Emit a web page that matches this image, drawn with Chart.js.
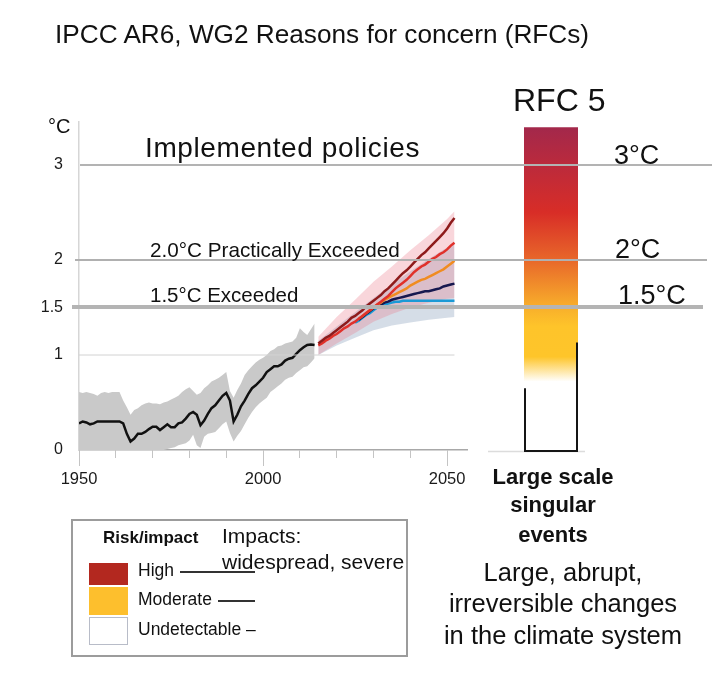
<!DOCTYPE html>
<html><head><meta charset="utf-8">
<script src="https://cdn.jsdelivr.net/npm/chart.js@4.4.1/dist/chart.umd.min.js"></script>
<style>
html,body{margin:0;padding:0;background:#fff;}
body{width:727px;height:682px;position:relative;overflow:hidden;font-family:"Liberation Sans",Arial,sans-serif;color:#111;}
#rfc{position:absolute;left:480px;top:0;z-index:1;width:247px;height:682px;}
#main{position:absolute;left:0;top:0;z-index:2;width:727px;height:682px;}
.t{position:absolute;white-space:nowrap;line-height:1;z-index:3;}
.c{text-align:center;width:300px;}
.sw{position:absolute;z-index:3;box-sizing:border-box;}
.ln{position:absolute;z-index:3;height:1.5px;background:#333;}
</style></head><body>
<canvas id="rfc" width="247" height="682"></canvas>
<canvas id="main" width="727" height="682"></canvas>

<div class="t" style="left:55px;top:21px;font-size:26.2px;">IPCC AR6, WG2 Reasons for concern (RFCs)</div>
<div class="t" style="left:48px;top:116px;font-size:20px;">°C</div>
<div class="t" style="left:145px;top:134px;font-size:28px;letter-spacing:0.6px;">Implemented policies</div>
<div class="t" style="left:150px;top:240px;font-size:20.7px;">2.0°C Practically Exceeded</div>
<div class="t" style="left:150px;top:285px;font-size:20.5px;">1.5°C Exceeded</div>

<div class="t" style="left:513px;top:84px;font-size:32px;">RFC 5</div>
<div class="t" style="left:614px;top:142px;font-size:27px;">3°C</div>
<div class="t" style="left:615px;top:236px;font-size:27px;">2°C</div>
<div class="t" style="left:618px;top:282px;font-size:27px;">1.5°C</div>

<div class="t c" style="left:403px;top:466px;font-size:22px;font-weight:bold;">Large scale</div>
<div class="t c" style="left:403px;top:494px;font-size:22px;font-weight:bold;">singular</div>
<div class="t c" style="left:403px;top:524px;font-size:22px;font-weight:bold;">events</div>
<div class="t c" style="left:413px;top:560px;font-size:25.5px;">Large, abrupt,</div>
<div class="t c" style="left:413px;top:591px;font-size:25.5px;">irreversible changes</div>
<div class="t c" style="left:413px;top:623px;font-size:25.5px;">in the climate system</div>

<div class="sw" style="left:71px;top:519px;width:337px;height:138px;border:2px solid #9c9c9c;"></div>
<div class="t" style="left:103px;top:529px;font-size:17px;font-weight:bold;">Risk/impact</div>
<div class="t" style="left:222px;top:525px;font-size:21px;">Impacts:</div>
<div class="t" style="left:222px;top:551px;font-size:21px;">widespread, severe</div>
<div class="sw" style="left:89px;top:563px;width:39px;height:22px;background:#B3281F;"></div>
<div class="sw" style="left:89px;top:587px;width:39px;height:28px;background:#FDBF2D;"></div>
<div class="sw" style="left:89px;top:617px;width:39px;height:28px;background:#fff;border:1.5px solid #b8bcc8;"></div>
<div class="t" style="left:138px;top:562px;font-size:17.5px;">High</div>
<div class="ln" style="left:180px;top:571px;width:75px;"></div>
<div class="t" style="left:138px;top:591px;font-size:17.5px;">Moderate</div>
<div class="ln" style="left:218px;top:600px;width:37px;"></div>
<div class="t" style="left:138px;top:621px;font-size:17.5px;">Undetectable –</div>

<script>
// ---------- data ----------
const histStart = 1950;
const histMean = [0.28,0.30,0.29,0.27,0.28,0.30,0.30,0.30,0.30,0.30,
  0.30,0.30,0.28,0.17,0.09,0.12,0.17,0.17,0.19,0.22,
  0.245,0.245,0.21,0.24,0.27,0.24,0.24,0.28,0.29,0.33,
  0.38,0.40,0.37,0.26,0.31,0.38,0.44,0.47,0.52,0.57,
  0.60,0.52,0.30,0.37,0.46,0.52,0.59,0.65,0.68,0.72,
  0.76,0.82,0.85,0.88,0.88,0.90,0.94,0.96,0.97,1.01,
  1.05,1.08,1.105,1.11,1.105];
const histUpper = [0.61,0.60,0.61,0.60,0.59,0.57,0.60,0.61,0.60,0.61,
  0.61,0.61,0.52,0.45,0.37,0.42,0.44,0.47,0.49,0.50,
  0.49,0.49,0.48,0.50,0.51,0.53,0.55,0.57,0.61,0.64,
  0.66,0.62,0.58,0.60,0.65,0.68,0.72,0.74,0.76,0.79,
  0.82,0.62,0.55,0.63,0.70,0.79,0.84,0.88,0.92,0.95,
  0.97,1.00,1.04,1.06,1.09,1.10,1.12,1.13,1.14,1.18,
  1.28,1.24,1.21,1.27,1.33];
const histLower = [0,0,0,0,0,0,0,0,0,0,
  0,0,0,0,0,0,0,0,0,0,
  0,0,0,0,0.01,0.02,0.03,0.05,0.06,0.07,
  0.10,0.16,0.05,0.02,0.14,0.17,0.18,0.19,0.23,0.27,
  0.30,0.18,0.09,0.15,0.20,0.27,0.34,0.40,0.45,0.49,
  0.52,0.55,0.61,0.64,0.67,0.70,0.74,0.76,0.77,0.81,
  0.84,0.87,0.88,0.92,0.965];

const projStart = 2015;
const darkRed = [1.12,1.15,1.18,1.20,1.23,1.26,1.29,1.32,1.35,1.39,
  1.41,1.44,1.47,1.51,1.54,1.57,1.60,1.63,1.67,1.70,
  1.74,1.78,1.82,1.86,1.89,1.93,1.97,2.01,2.05,2.08,
  2.12,2.16,2.20,2.24,2.28,2.33,2.39,2.44];
const red = [1.10,1.12,1.15,1.17,1.20,1.22,1.25,1.28,1.30,1.33,
  1.35,1.38,1.41,1.44,1.47,1.50,1.53,1.56,1.59,1.62,
  1.66,1.70,1.73,1.76,1.79,1.83,1.87,1.90,1.93,1.95,
  1.98,2.01,2.03,2.06,2.08,2.11,2.15,2.18];
const orangeStart = 2026;
const orange = [1.38,1.41,1.44,1.47,1.50,1.53,1.55,1.58,1.60,1.62,
  1.64,1.66,1.68,1.70,1.73,1.75,1.77,1.79,1.80,1.82,
  1.84,1.86,1.88,1.90,1.93,1.96,1.99];
const navyStart = 2026;
const navy = [1.37,1.40,1.43,1.46,1.49,1.51,1.53,1.55,1.56,1.58,
  1.59,1.60,1.61,1.62,1.63,1.64,1.65,1.66,1.67,1.67,
  1.68,1.69,1.70,1.72,1.73,1.74,1.75];
const blueStart = 2025;
const blue = [1.34,1.36,1.39,1.42,1.44,1.47,1.50,1.52,1.53,1.54,
  1.55,1.56,1.56,1.57,1.57,1.57,1.57,1.57,1.57,1.57,
  1.57,1.57,1.57,1.57,1.57,1.57,1.57,1.57];

const bandYears = [2015,2020,2025,2030,2035,2040,2045,2050,2052];
const pinkUpper = [1.19,1.40,1.58,1.77,1.93,2.10,2.26,2.43,2.51];
const pinkLower = [1.00,1.12,1.23,1.35,1.43,1.50,1.55,1.59,1.60];
const greyBlueUpper = [1.15,1.30,1.45,1.60,1.74,1.88,2.01,2.13,2.19];
const greyBlueLower = [1.00,1.10,1.18,1.26,1.31,1.34,1.37,1.39,1.40];

const xTickYears = [1950,1960,1970,1980,1990,2000,2010,2020,2030,2040,2050];
const xLabelYears = [1950,2000,2050];
const yTickValues = [0,1,1.5,2,3];
const yTickLabels = ['0','1','1.5','2','3'];
const refLevels = [3,2,1.5,1];

const rfcLabels = ['RFC 5'];
const rfcTop = 3.39;
const rfcOutlineLeftTop = 0.65;
const rfcOutlineRightTop = 1.13;

// ---------- helpers ----------
const series = (start, vals) => vals.map((v,i)=>({x:start+i, y:v}));
const paired = (xs, vals) => vals.map((v,i)=>({x:xs[i], y:v}));
const FONT = '"Liberation Sans", Arial, sans-serif';

// pick a narrow face for the axis labels if one is installed
const probe = document.createElement('canvas').getContext('2d');
probe.font = '20px "Liberation Sans Narrow", monospace';
const wNarrow = probe.measureText('1950 1.5').width;
probe.font = '20px monospace';
const wMono = probe.measureText('1950 1.5').width;
const hasNarrow = Math.abs(wNarrow - wMono) > 0.5;
const AXIS_FONT = hasNarrow ? '"Liberation Sans Narrow", "Liberation Sans", sans-serif' : FONT;
const AXIS_X_SIZE = hasNarrow ? 19 : 16.5;
const AXIS_Y_SIZE = hasNarrow ? 18.5 : 16;

const Y_MIN = 0, Y_MAX = 3.45;

// ---------- main chart ----------
const refStyle = [
  {x0:80, x1:712, w:2, c:'#b3b3b3'},
  {x0:75, x1:707, w:2, c:'#b0b0b0'},
  {x0:72, x1:703, w:4, c:'#b4b4b4'},
  {x0:79, x1:null, w:1, c:'#d2d2d2'}
];
const refLinesPlugin = {
  id:'refLines',
  afterDatasetsDraw(chart){
    const {ctx, scales:{x,y}} = chart;
    ctx.save();
    refLevels.forEach((v,i)=>{
      const s = refStyle[i];
      const py = Math.round(y.getPixelForValue(v));
      const x1 = s.x1 === null ? x.getPixelForValue(projStart + red.length - 1) : s.x1;
      ctx.strokeStyle = s.c; ctx.lineWidth = s.w;
      ctx.beginPath(); ctx.moveTo(s.x0, py); ctx.lineTo(x1, py); ctx.stroke();
    });
    const b = chart.chartArea.bottom;
    ctx.strokeStyle = '#c4c4c4'; ctx.lineWidth = 1;
    xLabelYears.forEach(v=>{
      const px = Math.round(x.getPixelForValue(v)) + 0.5;
      ctx.beginPath(); ctx.moveTo(px, b); ctx.lineTo(px, b + 16); ctx.stroke();
    });
    ctx.restore();
  }
};

const lineDs = (label, data, color, order, width) => ({
  label, data, borderColor: color, borderWidth: width || 2.5, pointRadius: 0,
  fill: false, tension: 0, order
});

new Chart(document.getElementById('main'), {
  type: 'line',
  data: { datasets: [
    {label:'histUpper', data: series(histStart, histUpper), borderWidth:0, pointRadius:0, fill:'+1', backgroundColor:'#c9c9c9', order:20},
    {label:'histLower', data: series(histStart, histLower), borderWidth:0, pointRadius:0, fill:false, order:21},
    {label:'greyBlueUpper', data: paired(bandYears, greyBlueUpper), borderWidth:0, pointRadius:0, fill:'+1', backgroundColor:'rgba(150,170,195,0.40)', order:18},
    {label:'greyBlueLower', data: paired(bandYears, greyBlueLower), borderWidth:0, pointRadius:0, fill:false, order:19},
    {label:'pinkUpper', data: paired(bandYears, pinkUpper), borderWidth:0, pointRadius:0, fill:'+1', backgroundColor:'rgba(235,120,135,0.30)', order:16},
    {label:'pinkLower', data: paired(bandYears, pinkLower), borderWidth:0, pointRadius:0, fill:false, order:17},
    lineDs('blue', series(blueStart, blue), '#1a9ad6', 6),
    lineDs('navy', series(navyStart, navy), '#16184f', 5),
    lineDs('orange', series(orangeStart, orange), '#f08c21', 4),
    lineDs('red', series(projStart, red), '#e0312b', 3),
    lineDs('darkRed', series(projStart, darkRed), '#8e1b1b', 2),
    lineDs('observed', series(histStart, histMean), '#111111', 1, 2.5)
  ]},
  options: {
    responsive:false, animation:false, devicePixelRatio:1,
    layout:{padding:{left:0, top:122, right:260, bottom:192}},
    plugins:{legend:{display:false}, tooltip:{enabled:false}},
    scales:{
      x:{type:'linear', min:1950, max:2055.4,
        afterBuildTicks:s=>{ s.ticks = xTickYears.map(v=>({value:v})); },
        afterFit:s=>{ s.height = 40; },
        grid:{drawOnChartArea:false, drawTicks:true, tickLength:8, color:'#c4c4c4', lineWidth:1},
        border:{display:true, color:'#a8a8a8', width:1.5},
        ticks:{autoSkip:false, maxRotation:0, padding:12, color:'#1a1a1a', font:{family:AXIS_FONT, size:AXIS_X_SIZE},
          callback:v=> xLabelYears.includes(v) ? String(v) : ''}
      },
      y:{min:Y_MIN, max:Y_MAX,
        afterBuildTicks:s=>{ s.ticks = yTickValues.map(v=>({value:v})); },
        afterFit:s=>{ s.width = 79; },
        grid:{display:true, drawOnChartArea:false, drawTicks:false},
        border:{display:true, color:'#d6d6d6', width:1.5},
        ticks:{padding:16, color:'#1a1a1a', font:{family:AXIS_FONT, size:AXIS_Y_SIZE},
          callback:v=>{ const i = yTickValues.indexOf(v); return i>=0 ? yTickLabels[i] : ''; }}
      }
    }
  },
  plugins:[refLinesPlugin]
});

// ---------- RFC 5 bar ----------
const rfcStops = [
  {v:3.39, c:'#a3284b'}, {v:3.0, c:'#bb2a3c'}, {v:2.5, c:'#d82d27'},
  {v:2.0, c:'#e8672a'}, {v:1.5, c:'#f8af2b'}, {v:1.3, c:'#fec42a'},
  {v:0.98, c:'#fec52a'}, {v:0.72, c:'#ffffff'}, {v:0, c:'#ffffff'}
];
const rfcFill = (ctx)=>{
  const chart = ctx.chart;
  if (!chart.chartArea) return '#fec42a';
  const y = chart.scales.y;
  const g = chart.ctx.createLinearGradient(0, y.getPixelForValue(Y_MIN), 0, y.getPixelForValue(Y_MAX));
  rfcStops.forEach(s=> g.addColorStop((s.v - Y_MIN)/(Y_MAX - Y_MIN), s.c));
  return g;
};
const outlinePlugin = {
  id:'outline',
  afterDatasetsDraw(chart){
    const {ctx, chartArea:a, scales:{y}} = chart;
    const base = y.getPixelForValue(0) + 1;
    ctx.save();
    ctx.strokeStyle = '#dcdcdc'; ctx.lineWidth = 1.5;
    ctx.beginPath(); ctx.moveTo(8, base + 0.5); ctx.lineTo(105, base + 0.5); ctx.stroke();
    ctx.strokeStyle = '#151515'; ctx.lineWidth = 2;
    ctx.beginPath();
    ctx.moveTo(a.left + 1, y.getPixelForValue(rfcOutlineLeftTop));
    ctx.lineTo(a.left + 1, base);
    ctx.lineTo(a.right - 1, base);
    ctx.lineTo(a.right - 1, y.getPixelForValue(rfcOutlineRightTop));
    ctx.stroke();
    ctx.restore();
  }
};
new Chart(document.getElementById('rfc'), {
  type:'bar',
  data:{ labels: rfcLabels, datasets:[{ data:[[0, rfcTop]], backgroundColor: rfcFill, borderWidth:0, borderSkipped:false, barPercentage:1, categoryPercentage:1 }]},
  options:{ responsive:false, animation:false, devicePixelRatio:1,
    layout:{padding:{left:44, right:149, top:122, bottom:232}},
    plugins:{legend:{display:false}, tooltip:{enabled:false}},
    scales:{ x:{display:false}, y:{display:false, min:Y_MIN, max:Y_MAX} } },
  plugins:[outlinePlugin]
});
</script>
</body></html>
